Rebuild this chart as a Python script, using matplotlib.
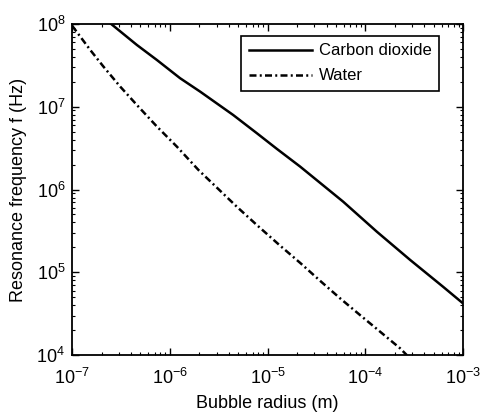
import matplotlib.pyplot as plt
from matplotlib.ticker import LogLocator

plt.rcParams['font.family'] = ['Liberation Sans', 'DejaVu Sans']
plt.rcParams['mathtext.fontset'] = 'custom'
plt.rcParams['mathtext.rm'] = 'Liberation Sans'

# resonance frequency (Hz) against bubble radius (m)
co2_radius = [2.5e-7, 4.59e-7, 7.35e-7, 1.27e-6, 2.04e-6, 4.44e-6, 7.76e-6,
              1.24e-5, 2.15e-5, 5.92e-5, 1.31e-4, 2.87e-4, 6.24e-4, 1.0e-3]
co2_freq = [1.0e8, 5.57e7, 3.67e7, 2.21e7, 1.52e7, 7.94e6, 4.78e6,
            3.1e6, 1.89e6, 7.13e5, 3.09e5, 1.41e5, 6.68e4, 4.2e4]

water_radius = [1.0e-7, 1.53e-7, 2.09e-7, 3.10e-7, 4.59e-7, 7.35e-7, 1.18e-6,
                1.96e-6, 4.84e-6, 7.76e-6, 1.34e-5, 2.15e-5, 3.44e-5, 5.52e-5,
                8.83e-5, 1.42e-4, 2.26e-4, 2.65e-4]
water_freq = [9.5e7, 4.85e7, 3.05e7, 1.75e7, 1.05e7, 5.77e6, 3.29e6,
              1.72e6, 6.19e5, 3.72e5, 2.1e5, 1.30e5, 7.9e4, 4.84e4,
              3.04e4, 1.91e4, 1.21e4, 1.0e4]

fig = plt.figure(figsize=(4.81, 4.12), dpi=100)
ax = fig.add_axes([0.150, 0.138, 0.813, 0.804])

ax.loglog(co2_radius, co2_freq, color='black', lw=1.8, ls='-', label='Carbon dioxide')
ax.loglog(water_radius, water_freq, color='black', lw=1.8,
          ls=(0, (2.8, 1.3, 0.8, 1.3)), label='Water')

ax.set_xlim(1e-7, 1e-3)
ax.set_ylim(1e4, 1e8)
ax.xaxis.set_major_locator(LogLocator(base=10, numticks=10))
ax.yaxis.set_major_locator(LogLocator(base=10, numticks=10))
ax.tick_params(which='both', direction='in', top=True, right=True, labelsize=13)
ax.tick_params(axis='x', which='major', pad=9)
ax.tick_params(axis='y', which='major', pad=5)
ax.tick_params(which='major', length=5, width=1)
ax.tick_params(which='minor', length=2.5, width=0.8)
for s in ax.spines.values():
    s.set_linewidth(1.3)

ax.set_xlabel('Bubble radius (m)', fontsize=13)
ax.set_ylabel('Resonance frequency f (Hz)', fontsize=13)
ax.xaxis.set_label_coords(0.5, -0.12)
ax.yaxis.set_label_coords(-0.115, 0.5)

leg = ax.legend(loc='upper right', bbox_to_anchor=(0.9386, 0.9637), borderaxespad=0,
                fontsize=12, handlelength=3.8, handletextpad=0.4, borderpad=0.45,
                labelspacing=0.6, fancybox=False, framealpha=1, edgecolor='black')
leg.get_frame().set_linewidth(1.2)

fig.savefig('out.png', dpi=100)
